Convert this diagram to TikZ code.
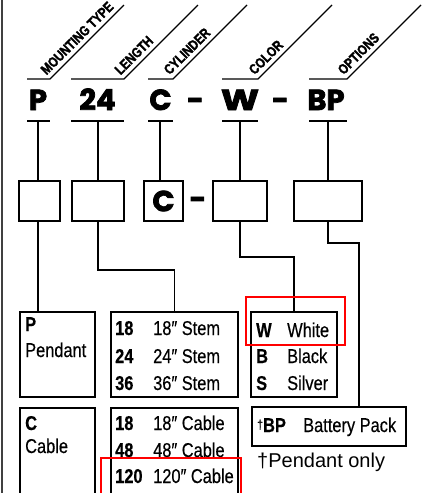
\documentclass[tikz,border=0pt]{standalone}
\usepackage{fontspec}
\setmainfont{Liberation Sans}
\newfontfamily\bigfont[BoldFeatures={FakeBold=2.5}]{Poppins}
\newfontfamily\labfont[FakeStretch=0.82, BoldFeatures={FakeBold=2}]{Liberation Sans}
\newfontfamily\bodyfont[FakeStretch=0.82, FakeBold=0.4]{Liberation Sans}
\begin{document}
\begin{tikzpicture}[x=1pt,y=-1pt,
  big/.style={font=\bigfont\bfseries\fontsize{29}{29}\selectfont, inner sep=0, anchor=base},
  lab/.style={font=\labfont\bfseries\fontsize{14}{14}\selectfont, inner sep=0, anchor=base west, rotate=45},
  txt/.style={font=\bodyfont\fontsize{20}{20}\selectfont, inner sep=0, anchor=base west},
  btxt/.style={font=\bodyfont\bfseries\fontsize{20}{20}\selectfont, inner sep=0, anchor=base west},
  note/.style={font=\fontsize{20}{20}\selectfont, inner sep=0, anchor=base west},
  diag/.style={line width=1.4pt},
  bar/.style={line width=1.8pt},
  conn/.style={line width=1.3pt},
  midbox/.style={draw, line width=1.3pt, inner sep=0, outer sep=0, anchor=north west, minimum height=40pt},
  botbox/.style={draw, line width=2pt, inner sep=0, outer sep=0, anchor=north west},
  redbox/.style={draw=red, line width=2pt, inner sep=0, outer sep=0, anchor=north west},
]
\useasboundingbox (0,0) rectangle (422,493);
\clip (0,0) rectangle (422,493);

% left border
\draw[line width=1.5pt, black!75] (2,0) -- (2,493);

% header underlines, diagonals and labels
\coordinate (fP) at (50,79);
\coordinate (fL) at (124,79);
\coordinate (fC) at (173,79);
\coordinate (fW) at (258,79);
\coordinate (fO) at (347,79);
\draw[diag] (27,79) -- (fP) -- ++(74,-74);
\draw[diag] (71,79) -- (fL) -- ++(74,-74);
\draw[diag] (148,79) -- (fC) -- ++(74,-74);
\draw[diag] (222,79) -- (fW) -- ++(74,-74);
\draw[diag] (309,79) -- (fO) -- ++(74,-74);
\path (fP) ++(-3.5,-3.5) node[lab] (lP) {MOUNTING TYPE};
\path (fL) ++(-3.5,-3.5) node[lab] (lL) {LENGTH};
\path (fC) ++(-3.5,-3.5) node[lab] (lC) {CYLINDER};
\path (fW) ++(-3.5,-3.5) node[lab] (lW) {COLOR};
\path (fO) ++(-3.5,-3.5) node[lab] (lO) {OPTIONS};

% big code letters
\node[big] (tP) at (38,110) {P};
\node[big] (t24) at (97.5,110) {24};
\node[big] (tC) at (160.5,110) {C};
\node[big, anchor=center] (d1) at (195.5,104) {-};
\node[big] (tW) at (240,110) {\scalebox{1.25}[1]{W}};
\node[big, anchor=center] (d2) at (280.5,104) {-};
\node[big] (tBP) at (326,110) {BP};

% bars under letters
\coordinate (bP) at (38,121);
\coordinate (b24) at (98,121);
\coordinate (bC) at (160,121);
\coordinate (bW) at (240,121);
\coordinate (bBP) at (328,121);
\draw[bar] (27,121) -- (50,121);
\draw[bar] (71,121) -- (124,121);
\draw[bar] (148,121) -- (173,121);
\draw[bar] (222,121) -- (258,121);
\draw[bar] (309,121) -- (347,121);

% middle boxes
\node[midbox, minimum width=41pt] (m1) at (19,181) {};
\node[midbox, minimum width=52pt, line width=1.6pt] (m2) at (72,181) {};
\node[midbox, minimum width=39pt, font=\bigfont\bfseries\fontsize{29}{29}\selectfont] (m3) at (144,181) {C};
\node[big, anchor=center] (d3) at (198,203) {-};
\node[midbox, minimum width=54pt] (m4) at (213,181) {};
\node[midbox, minimum width=68pt] (m5) at (294,181) {};

\draw[conn] (bP) -- (bP |- m1.north);
\draw[conn] (b24) -- (b24 |- m2.north);
\draw[conn] (bC) -- (bC |- m3.north);
\draw[conn] (bW) -- (bW |- m4.north);
\draw[conn] (bBP) -- (bBP |- m5.north);

% bottom boxes
\node[botbox, minimum width=75pt, minimum height=85pt] (pbox) at (20,312) {};
\node[botbox, minimum width=127pt, minimum height=85pt] (stembox) at (111,312) {};
\node[botbox, minimum width=86pt, minimum height=85pt] (wbox) at (251,312) {};
\node[botbox, minimum width=75pt, minimum height=92pt] (cbox) at (20,408) {};
\node[botbox, minimum width=127pt, minimum height=92pt] (cablebox) at (111,408) {};
\node[botbox, minimum width=154pt, minimum height=39pt] (bpbox) at (252,407) {};

% connectors to bottom boxes
\draw[conn] (bP |- m1.south) -- (bP |- pbox.north);
\draw[conn] (b24 |- m2.south) -- ++(0,49) -| (stembox.north);
\draw[conn] (bW |- m4.south) -- ++(0,36) -| (wbox.north);
\draw[conn] (bBP |- m5.south) -- ++(0,22) -| (bpbox.north -| 359,0);

% texts
\node[btxt] (pP) at (25,331) {P};
\node[txt] (pPend) at (25,357) {Pendant};
\node[btxt] (cC) at (25,430) {C};
\node[txt] (cCab) at (25,453) {Cable};

\node[btxt] (s1a) at (115,335) {18};
\node[txt] (s1b) at (153,335) {18″ Stem};
\node[btxt] (s2a) at (115,363) {24};
\node[txt] (s2b) at (153,363) {24″ Stem};
\node[btxt] (s3a) at (115,390) {36};
\node[txt] (s3b) at (153,390) {36″ Stem};

\node[btxt] (c1a) at (115,430) {18};
\node[txt] (c1b) at (153,430) {18″ Cable};
\node[btxt] (c2a) at (115,457) {48};
\node[txt] (c2b) at (153,457) {48″ Cable};
\node[btxt] (c3a) at (115,483) {120};
\node[txt] (c3b) at (153,483) {120″ Cable};

\node[btxt] (w1a) at (256,337) {W};
\node[txt] (w1b) at (287,337) {White};
\node[btxt] (w2a) at (256,363) {B};
\node[txt] (w2b) at (287,363) {Black};
\node[btxt] (w3a) at (256,390) {S};
\node[txt] (w3b) at (287,390) {Silver};

\node[txt] (bp1) at (257,432) {\raisebox{3pt}{\fontsize{13}{13}\selectfont †}\textbf{BP}};
\node[txt] (bp2) at (303,432) {Battery Pack};
\node[note] (pn) at (257,467) {†Pendant only};

% red highlight boxes
\node[redbox, minimum width=99pt, minimum height=48pt] (rW) at (246,297) {};
\node[redbox, minimum width=140pt, minimum height=45pt] (r120) at (101,458) {};
\end{tikzpicture}
\end{document}
